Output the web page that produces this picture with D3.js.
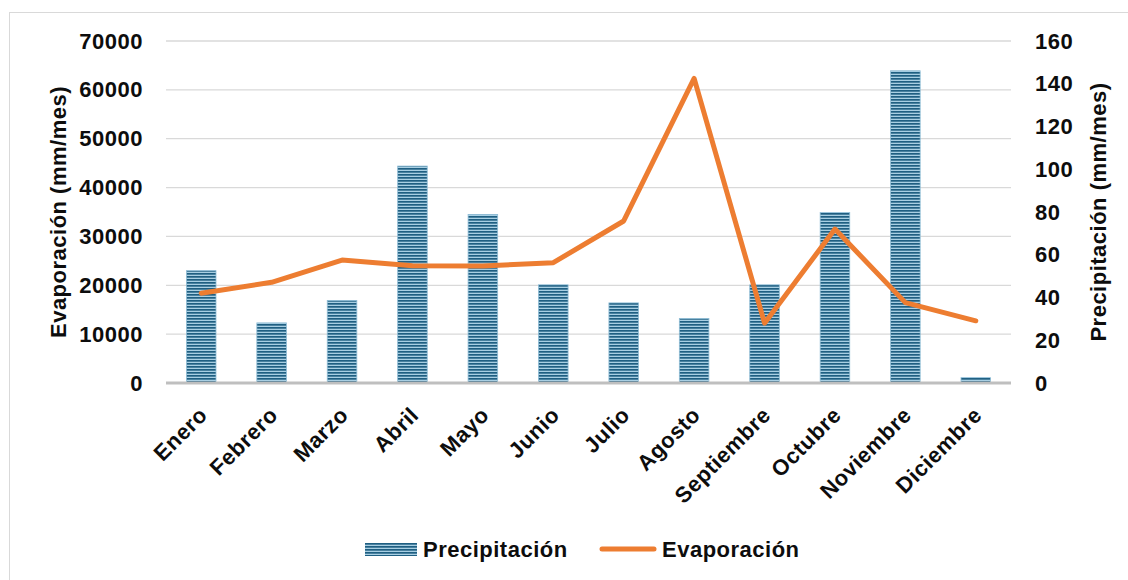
<!DOCTYPE html>
<html>
<head>
<meta charset="utf-8">
<script src="https://cdn.jsdelivr.net/npm/d3@7"></script>
<style>
  html, body { margin: 0; padding: 0; background: #fff; }
  svg { display: block; }
  text { font-family: "Liberation Sans", Arial, sans-serif; font-weight: bold; fill: #0d0d0d; letter-spacing: 0.5px; }
</style>
</head>
<body>
<svg id="chart" width="1128" height="580"></svg>
<script>
// Monthly series
const meses = ["Enero", "Febrero", "Marzo", "Abril", "Mayo", "Junio", "Julio",
               "Agosto", "Septiembre", "Octubre", "Noviembre", "Diciembre"];
const precipitacion = [23000, 12300, 16900, 44400, 34500, 20100, 16400,
                       13200, 20100, 34900, 63900, 1100];
const evaporacion = [42.0, 47.1, 57.5, 54.9, 54.7, 56.3, 75.8,
                     142.5, 28.0, 72.0, 37.6, 29.1];
const ticksIzq = [0, 10000, 20000, 30000, 40000, 50000, 60000, 70000];
const ticksDer = [0, 20, 40, 60, 80, 100, 120, 140, 160];

const svg = d3.select("#chart");
const W = 1128, H = 580;
const plot = { left: 166, right: 1011, top: 41, bottom: 383 };
const FS = 22;

// Outer frame
svg.append("rect")
  .attr("x", 9.5).attr("y", 12.5)
  .attr("width", W + 20).attr("height", H + 20)
  .attr("fill", "#fff").attr("stroke", "#d9d9d9").attr("stroke-width", 1);

// Striped fill for bars
const defs = svg.append("defs");
const pat = defs.append("pattern")
  .attr("id", "rayas").attr("patternUnits", "userSpaceOnUse")
  .attr("width", 6).attr("height", 3);
pat.append("rect").attr("width", 6).attr("height", 3).attr("fill", "#1f5f82");
pat.append("rect").attr("y", 1.7).attr("width", 6).attr("height", 1.3).attr("fill", "#a8cfe3");

const x = d3.scaleBand().domain(meses)
  .range([plot.left, plot.right])
  .paddingInner(0.58).paddingOuter(0.29);
const yIzq = d3.scaleLinear().domain([0, 70000]).range([plot.bottom, plot.top]);
const yDer = d3.scaleLinear().domain([0, 160]).range([plot.bottom, plot.top]);

// Gridlines
svg.append("g").selectAll("line").data(ticksIzq.slice(1)).join("line")
  .attr("x1", plot.left).attr("x2", plot.right)
  .attr("y1", d => yIzq(d)).attr("y2", d => yIzq(d))
  .attr("stroke", "#d9d9d9").attr("stroke-width", 1.3);

// Left axis labels
const axL = svg.append("g").attr("transform", `translate(${plot.left},0)`)
  .call(d3.axisLeft(yIzq).tickValues(ticksIzq).tickFormat(d3.format("d")).tickSize(0).tickPadding(23));
axL.select(".domain").remove();
axL.selectAll("text").attr("font-size", FS).attr("font-family", null).attr("fill", "#0d0d0d");

// Right axis labels
const axR = svg.append("g").attr("transform", `translate(${plot.right},0)`)
  .call(d3.axisRight(yDer).tickValues(ticksDer).tickFormat(d3.format("d")).tickSize(0).tickPadding(24));
axR.select(".domain").remove();
axR.selectAll("text").attr("font-size", FS).attr("font-family", null).attr("fill", "#0d0d0d");

// Bars
svg.append("g").selectAll("rect").data(meses).join("rect")
  .attr("x", d => x(d))
  .attr("y", (d, i) => yIzq(precipitacion[i]))
  .attr("width", x.bandwidth())
  .attr("height", (d, i) => yIzq(0) - yIzq(precipitacion[i]))
  .attr("fill", "url(#rayas)")
  .attr("stroke", "#8fbdd6").attr("stroke-width", 0.8);

// Category axis line
svg.append("line")
  .attr("x1", plot.left).attr("x2", plot.right)
  .attr("y1", plot.bottom).attr("y2", plot.bottom)
  .attr("stroke", "#bfbfbf").attr("stroke-width", 3);

// Evaporation line
const linea = d3.line()
  .x((d, i) => x(meses[i]) + x.bandwidth() / 2)
  .y(d => yDer(d));
svg.append("path").datum(evaporacion)
  .attr("d", linea)
  .attr("fill", "none").attr("stroke", "#ed7d31")
  .attr("stroke-width", 5).attr("stroke-linejoin", "round").attr("stroke-linecap", "round");

// Month labels
svg.append("g").selectAll("text").data(meses).join("text")
  .attr("transform", d => `translate(${x(d) + x.bandwidth() / 2 + 2},411) rotate(-45)`)
  .attr("text-anchor", "end").attr("dy", "0.35em")
  .attr("font-size", FS)
  .text(d => d);

// Axis titles
svg.append("text")
  .attr("transform", "translate(58,212) rotate(-90)")
  .attr("text-anchor", "middle").attr("dy", "0.35em").attr("font-size", FS)
  .text("Evaporación (mm/mes)");
svg.append("text")
  .attr("transform", "translate(1098,212) rotate(-90)")
  .attr("text-anchor", "middle").attr("dy", "0.35em").attr("font-size", FS)
  .text("Precipitación (mm/mes)");

// Legend
const leg = svg.append("g");
leg.append("rect").attr("x", 365).attr("y", 543).attr("width", 52).attr("height", 13)
  .attr("fill", "url(#rayas)");
leg.append("text").attr("x", 423).attr("y", 549).attr("dy", "0.35em").attr("font-size", FS)
  .text("Precipitación");
leg.append("line").attr("x1", 602).attr("x2", 654).attr("y1", 549).attr("y2", 549)
  .attr("stroke", "#ed7d31").attr("stroke-width", 5).attr("stroke-linecap", "round");
leg.append("text").attr("x", 662).attr("y", 549).attr("dy", "0.35em").attr("font-size", FS)
  .text("Evaporación");
</script>
</body>
</html>
